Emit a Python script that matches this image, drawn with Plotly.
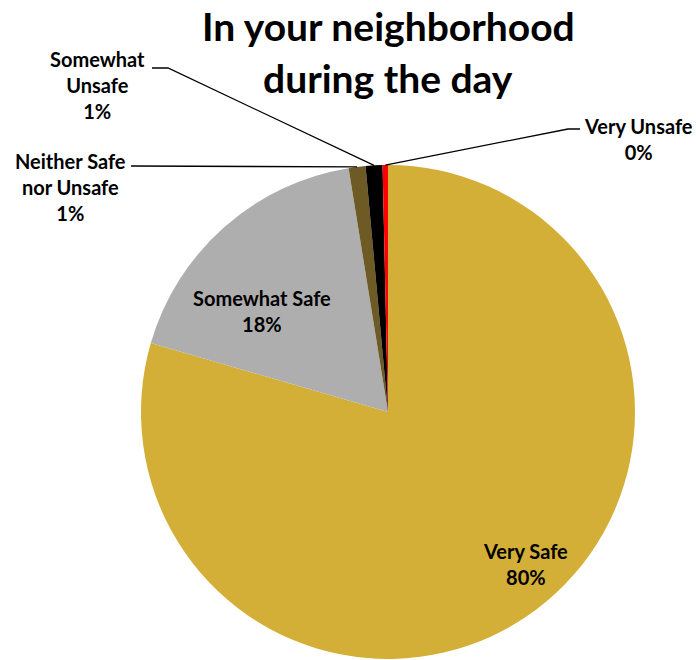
import math
import plotly.graph_objects as go

categories = ["Very Safe", "Somewhat Safe", "Neither Safe nor Unsafe", "Somewhat Unsafe", "Very Unsafe"]
values = [79.5, 17.95, 1.1, 1.1, 0.35]
colors = ["#D4AF37", "#AEAEAE", "#6E5A24", "#000000", "#FF0000"]
label_lines = [["Very Safe"], ["Somewhat Safe"], ["Neither Safe", "nor Unsafe"], ["Somewhat", "Unsafe"], ["Very Unsafe"]]

W, H = 696, 660
CX, CY, R = 388, 412, 247
FONT = "Lato"

fig = go.Figure(go.Pie(
    labels=categories, values=values, sort=False, direction="clockwise", rotation=0,
    marker=dict(colors=colors, line=dict(color="white", width=0)),
    textinfo="none", hoverinfo="label+percent", showlegend=False,
    domain=dict(x=[(CX - R) / W, (CX + R) / W], y=[1 - (CY + R) / H, 1 - (CY - R) / H]),
))

total = sum(values)
pcts = [v / total for v in values]

def px2paper(x, y):
    return x / W, 1 - y / H

# label placements (pixel coords) and leader-line elbow points
label_pos = {
    0: (525, 564),
    1: (262, 311),
    2: (70, 187),
    3: (97, 85),
    4: (638, 139),
}
elbows = {
    2: [(131, 166)],
    3: [(152, 68), (168, 68)],
    4: [(580, 129), (568, 129)],
}

annotations = []
shapes = []
cum = 0.0
for i, p in enumerate(pcts):
    mid = (cum + p / 2) * 2 * math.pi
    cum += p
    lx, ly = label_pos[i]
    text = "<br>".join(label_lines[i] + [f"{round(p * 100):.0f}%"])
    ax, ay = px2paper(lx, ly)
    annotations.append(dict(x=ax, y=ay, xref="paper", yref="paper", text=text, showarrow=False,
                            font=dict(family=FONT, size=20, color="black", weight="bold"),
                            xanchor="center", yanchor="middle", align="center"))
    if i in elbows:
        ex = CX + R * math.sin(mid)
        ey = CY - R * math.cos(mid)
        pts = elbows[i] + [(ex, ey)]
        path = "M " + " L ".join(f"{px2paper(x, y)[0]},{px2paper(x, y)[1]}" for x, y in pts)
        shapes.append(dict(type="path", path=path, xref="paper", yref="paper",
                           line=dict(color="black", width=1.3)))

title_lines = ["In your neighborhood", "during the day"]
for t, yy in zip(title_lines, [26, 78]):
    ax, ay = px2paper(388, yy)
    annotations.append(dict(x=ax, y=ay, xref="paper", yref="paper", text=t, showarrow=False,
                            font=dict(family=FONT, size=39, color="black", weight="bold"),
                            xanchor="center", yanchor="middle", borderpad=0))

fig.update_layout(
    width=W, height=H, margin=dict(l=0, r=0, t=0, b=0),
    paper_bgcolor="white", plot_bgcolor="white",
    annotations=annotations, shapes=shapes,
)
fig.write_html("out.html")
